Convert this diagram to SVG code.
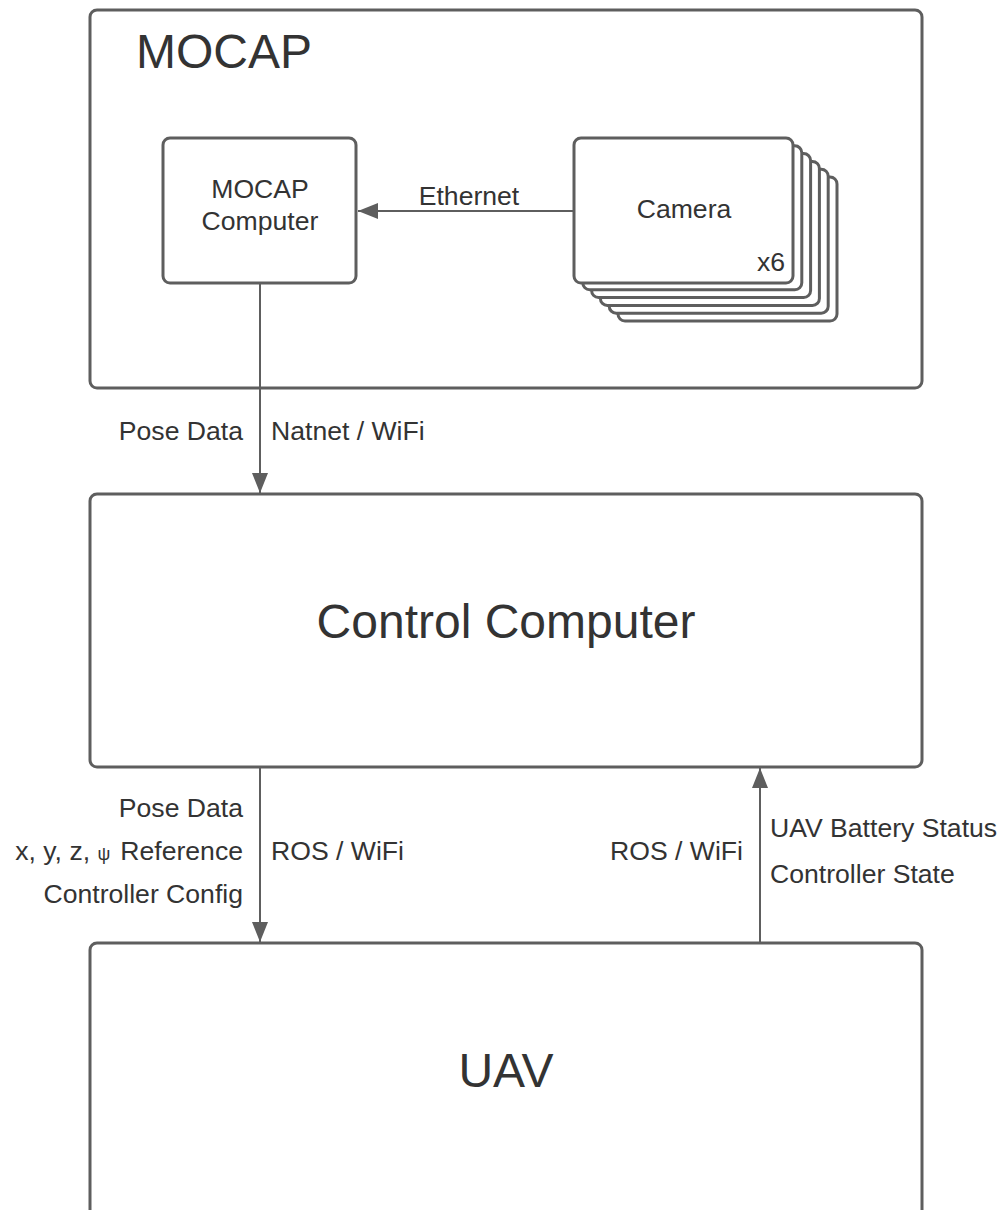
<svg xmlns="http://www.w3.org/2000/svg" width="1003" height="1210" viewBox="0 0 1003 1210">
  <style>
    .box { fill: #ffffff; stroke: #5e5e5e; stroke-width: 3; }
    .wire { fill: none; stroke: #5e5e5e; stroke-width: 2; }
    text { font-family: "Liberation Sans", Arial, sans-serif; fill: #333333; }
    .lbl { font-size: 26.6px; }
    .big { font-size: 48px; }
    .end { text-anchor: end; }
    .mid { text-anchor: middle; }
  </style>
  <defs>
    <marker id="arrow" viewBox="0 0 20 16" refX="20" refY="8" markerWidth="20" markerHeight="16" markerUnits="userSpaceOnUse" orient="auto">
      <path d="M0,0 L20,8 L0,16 Z" fill="#5e5e5e"/>
    </marker>
  </defs>
  <rect width="1003" height="1210" fill="#ffffff"/>

  <g id="mocap">
    <rect class="box" x="90" y="10" width="832" height="378" rx="7"/>
    <text class="big" x="136" y="68">MOCAP</text>
  </g>

  <g id="mocap-computer">
    <rect class="box" x="163" y="138" width="193" height="145" rx="7"/>
    <text class="lbl mid" x="260" y="198">MOCAP</text>
    <text class="lbl mid" x="260" y="230">Computer</text>
  </g>

  <g id="camera">
    <!-- stacked copies behind the front card -->
    <rect class="box" x="618" y="177" width="219" height="144" rx="7"/>
    <rect class="box" x="609.2" y="169.2" width="219" height="144" rx="7"/>
    <rect class="box" x="600.4" y="161.4" width="219" height="144" rx="7"/>
    <rect class="box" x="591.6" y="153.6" width="219" height="144" rx="7"/>
    <rect class="box" x="582.8" y="145.8" width="219" height="144" rx="7"/>
    <rect class="box" x="574" y="138" width="219" height="145" rx="7"/>
    <text class="lbl mid" x="684" y="218">Camera</text>
    <text class="lbl end" x="785" y="271">x6</text>
  </g>

  <g id="control-computer">
    <rect class="box" x="90" y="494" width="832" height="273" rx="7"/>
    <text class="big mid" x="506" y="638">Control Computer</text>
  </g>

  <g id="uav">
    <rect class="box" x="90" y="943" width="832" height="300" rx="7"/>
    <text class="big mid" x="506" y="1087">UAV</text>
  </g>

  <g id="connectors">
    <line class="wire" x1="574" y1="211" x2="358" y2="211" marker-end="url(#arrow)"/>
    <line class="wire" x1="260" y1="284" x2="260" y2="493" marker-end="url(#arrow)"/>
    <line class="wire" x1="260" y1="768" x2="260" y2="942" marker-end="url(#arrow)"/>
    <line class="wire" x1="760" y1="942" x2="760" y2="768" marker-end="url(#arrow)"/>

    <text class="lbl mid" x="469" y="205">Ethernet</text>

    <text class="lbl end" x="243" y="440">Pose Data</text>
    <text class="lbl" x="271" y="440">Natnet / WiFi</text>

    <text class="lbl end" x="243" y="817">Pose Data</text>
    <text class="lbl end" x="243" y="860">x, y, z, <tspan font-size="18">ψ</tspan><tspan dx="10">Reference</tspan></text>
    <text class="lbl end" x="243" y="903">Controller Config</text>
    <text class="lbl" x="271" y="860">ROS / WiFi</text>

    <text class="lbl end" x="743" y="860">ROS / WiFi</text>
    <text class="lbl" x="770" y="837">UAV Battery Status</text>
    <text class="lbl" x="770" y="883">Controller State</text>
  </g>
</svg>
